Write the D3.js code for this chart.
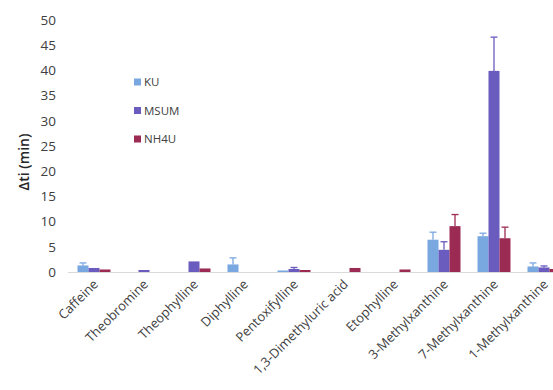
<!DOCTYPE html>
<html><head><meta charset="utf-8">
<script src="https://cdn.jsdelivr.net/npm/d3@7"></script>
<style>body{margin:0;background:#fff;}svg{display:block;font-family:"Open Sans","Liberation Sans",sans-serif;}</style>
</head><body>
<svg id="c" width="553" height="390"></svg>
<script>
const categories = ["Caffeine","Theobromine","Theophylline","Diphylline","Pentoxifylline","1,3-Dimethyluric acid","Etophylline","3-Methylxanthine","7-Methylxanthine","1-Methylxanthine"];
const seriesNames = ["KU","MSUM","NH4U"];
const kuValues   = [1.3, 0,   0,   1.5, 0.3, 0,   0,   6.4, 7.1, 1.1];
const kuErrors   = [0.5, 0,   0,   1.3, 0,   0,   0,   1.5, 0.6, 0.7];
const msumValues = [0.8, 0.4, 2.1, 0,   0.6, 0,   0,   4.4, 39.9, 0.9];
const msumErrors = [0,   0,   0,   0,   0.3, 0,   0,   1.6, 6.7, 0.3];
const nh4uValues = [0.5, 0,   0.7, 0,   0.4, 0.8, 0.5, 9.1, 6.7, 0.6];
const nh4uErrors = [0,   0,   0,   0,   0,   0,   0,   2.3, 2.2, 0];
const yTicks = [0,5,10,15,20,25,30,35,40,45,50];
const colors = ["#79a7df","#6a5bbf","#9b2b52"];

const values = [kuValues, msumValues, nh4uValues];
const errors = [kuErrors, msumErrors, nh4uErrors];

const svg = d3.select("#c");
const x = d3.scaleBand().domain(categories).range([69, 569]).paddingInner(0.34).paddingOuter(0.17);
const xs = d3.scaleBand().domain(seriesNames).range([0, x.bandwidth()]);
const y = d3.scaleLinear().domain([0, 50]).range([272, 20]);

// y tick labels
svg.append("g").selectAll("text").data(yTicks).join("text")
  .attr("x", 56).attr("y", d => y(d)).attr("dy", "0.35em")
  .attr("text-anchor", "end").attr("font-size", 13.5).attr("fill", "#404040")
  .text(d => d);

// y title
svg.append("text").attr("transform", "translate(29,162) rotate(-90)")
  .attr("text-anchor", "middle").attr("font-size", 14).attr("font-weight", 600).attr("fill", "#262626")
  .text("Δti (min)");

// bars
const g = svg.append("g");
seriesNames.forEach((s, si) => {
  const gs = g.append("g");
  gs.selectAll("rect").data(categories).join("rect")
    .attr("x", c => x(c) + xs(s)).attr("width", xs.bandwidth())
    .attr("y", (c, i) => y(values[si][i]))
    .attr("height", (c, i) => y(0) - y(values[si][i]))
    .attr("fill", colors[si]);
  const eb = gs.selectAll("g").data(categories.map((c, i) => ({c, v: values[si][i], e: errors[si][i]})).filter(d => d.e > 0)).join("g")
    .attr("stroke", colors[si]).attr("stroke-width", 1.3);
  eb.append("line")
    .attr("x1", d => x(d.c) + xs(s) + xs.bandwidth()/2).attr("x2", d => x(d.c) + xs(s) + xs.bandwidth()/2)
    .attr("y1", d => y(d.v)).attr("y2", d => y(d.v + d.e));
  eb.append("line")
    .attr("x1", d => x(d.c) + xs(s) + xs.bandwidth()/2 - 3.5).attr("x2", d => x(d.c) + xs(s) + xs.bandwidth()/2 + 3.5)
    .attr("y1", d => y(d.v + d.e)).attr("y2", d => y(d.v + d.e));
});

// x axis line
svg.append("line").attr("x1", 68).attr("x2", 553).attr("y1", 272.5).attr("y2", 272.5)
  .attr("stroke", "#d9d9d9").attr("stroke-width", 1);

// x labels
svg.append("g").selectAll("text").data(categories).join("text")
  .attr("transform", c => `translate(${x(c) + x.bandwidth()/2 + 5},${285}) rotate(-45)`)
  .attr("text-anchor", "end").attr("font-size", 13).attr("fill", "#404040")
  .text(c => c);

// legend
const lg = svg.append("g");
seriesNames.forEach((s, i) => {
  const ly = 82 + i * 28.5;
  lg.append("rect").attr("x", 134).attr("y", ly - 3.5).attr("width", 7).attr("height", 7).attr("fill", colors[i]);
  lg.append("text").attr("x", 144).attr("y", ly).attr("dy", "0.35em").attr("font-size", 11.5).attr("fill", "#404040").text(s);
});
</script>
</body></html>
